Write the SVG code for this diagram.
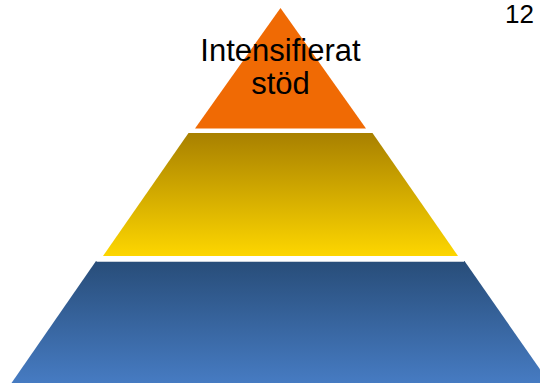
<svg xmlns="http://www.w3.org/2000/svg" width="540" height="383" viewBox="0 0 540 383">
  <defs>
    <linearGradient id="gYellow" x1="0" y1="0" x2="0" y2="1">
      <stop offset="0" stop-color="#A88000"/>
      <stop offset="1" stop-color="#FDD600"/>
    </linearGradient>
    <linearGradient id="gBlue" x1="0" y1="0" x2="0" y2="1">
      <stop offset="0" stop-color="#284D79"/>
      <stop offset="1" stop-color="#467BC2"/>
    </linearGradient>
    <style>
      .lbl { font-family: "Liberation Sans", Arial, sans-serif; fill: #000000; }
    </style>
  </defs>
  <rect width="540" height="383" fill="#FFFFFF"/>
  <g id="level-bottom">
    <polygon points="96,261 464.5,261 549.5,383 11.5,383" fill="url(#gBlue)"/>
    <line x1="96.5" y1="261.5" x2="464" y2="261.5" stroke="#C8D0DA" stroke-width="1"/>
  </g>
  <g id="level-middle">
    <polygon points="188.5,133 372.5,133 458,256 103,256" fill="url(#gYellow)"/>
  </g>
  <g id="level-top">
    <polygon points="280.5,8 366,128.5 195,128.5" fill="#F06A04"/>
    <text class="lbl" x="280.5" y="61" font-size="31" text-anchor="middle">Intensifierat</text>
    <text class="lbl" x="280.5" y="93.5" font-size="31" text-anchor="middle">stöd</text>
  </g>
  <text class="lbl" x="534" y="23" font-size="26" text-anchor="end">12</text>
</svg>
